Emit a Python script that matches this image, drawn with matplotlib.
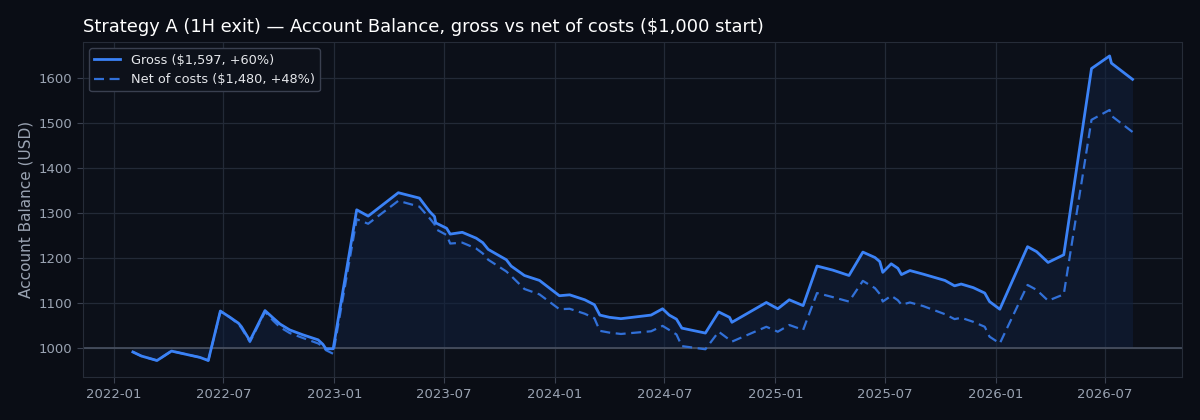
import numpy as np
import pandas as pd
import matplotlib
matplotlib.use("Agg")
import matplotlib.pyplot as plt
import matplotlib.dates as mdates

dates = [
    "2022-02-01", "2022-02-15", "2022-03-13", "2022-04-06", "2022-05-06", "2022-05-23",
    "2022-06-06", "2022-06-26", "2022-07-12", "2022-07-26", "2022-07-31", "2022-08-14",
    "2022-09-08", "2022-09-22", "2022-10-03", "2022-10-19", "2022-11-10", "2022-12-05",
    "2022-12-13", "2022-12-18", "2022-12-30",
    "2023-02-07", "2023-02-26", "2023-04-17", "2023-05-22", "2023-06-08", "2023-06-16",
    "2023-06-18", "2023-07-06", "2023-07-12", "2023-08-01", "2023-08-24", "2023-09-04",
    "2023-09-13", "2023-10-13", "2023-10-21", "2023-11-12", "2023-12-07",
    "2024-01-09", "2024-01-26", "2024-02-20", "2024-03-07", "2024-03-16", "2024-04-01",
    "2024-04-20", "2024-06-09", "2024-06-28", "2024-07-09", "2024-07-21", "2024-07-30",
    "2024-09-07", "2024-09-29", "2024-10-17", "2024-10-21", "2024-12-17",
    "2025-01-05", "2025-01-24", "2025-02-16", "2025-03-11", "2025-04-06", "2025-05-03",
    "2025-05-26", "2025-06-15", "2025-06-23", "2025-06-28", "2025-07-12", "2025-07-23",
    "2025-07-29", "2025-08-12", "2025-09-03", "2025-10-09", "2025-10-25", "2025-11-05",
    "2025-11-25", "2025-12-14", "2025-12-22",
    "2026-01-08", "2026-02-23", "2026-03-10", "2026-03-29", "2026-04-24", "2026-06-09",
    "2026-07-09", "2026-07-12", "2026-08-16",
]

gross = [
    991, 982, 972, 993, 984, 979,
    972, 1082, 1068, 1055, 1047, 1016,
    1083, 1066, 1053, 1040, 1029, 1018,
    1008, 998, 998,
    1307, 1293, 1345, 1333, 1303, 1292,
    1278, 1266, 1253, 1257, 1244, 1234,
    1219, 1196, 1182, 1161, 1150,
    1116, 1118, 1107, 1096, 1073, 1068,
    1065, 1073, 1087, 1073, 1064, 1044,
    1033, 1080, 1068, 1057, 1101,
    1087, 1107, 1094, 1182, 1173, 1161,
    1213, 1201, 1192, 1168, 1187, 1177,
    1163, 1172, 1164, 1150, 1138, 1142,
    1134, 1122, 1103,
    1086, 1225, 1214, 1190, 1207, 1621,
    1649, 1633, 1597,
]

net = [
    991, 982, 972, 993, 984, 979,
    972, 1081, 1068, 1053, 1044, 1013,
    1080, 1060, 1046, 1033, 1022, 1010,
    1003, 995, 987,
    1286, 1276, 1327, 1314, 1288, 1275,
    1264, 1251, 1232, 1234, 1221, 1210,
    1196, 1170, 1160, 1131, 1119,
    1086, 1087, 1076, 1066, 1038, 1034,
    1031, 1037, 1049, 1040, 1030, 1004,
    997, 1036, 1018, 1014, 1047,
    1036, 1051, 1040, 1122, 1113, 1103,
    1149, 1133, 1120, 1103, 1116, 1106,
    1096, 1101, 1093, 1075, 1064, 1067,
    1058, 1047, 1025,
    1010, 1140, 1129, 1105, 1119, 1507,
    1529, 1516, 1480,
]

start_balance = 1000
dates = pd.to_datetime(dates)

BG = "#0a0d15"
AX_BG = "#0c1019"
BLUE = "#3b82f6"
NET_BLUE = "#3170d8"
GRID = "#232a37"
TEXT = "#9aa3b2"

fig = plt.figure(figsize=(12, 4.2), dpi=100, facecolor=BG)
ax = fig.add_axes([0.069, 0.102, 0.916, 0.798], facecolor=AX_BG)

ax.fill_between(dates, gross, start_balance, color="#10203d", alpha=0.55, lw=0)
ax.axhline(start_balance, color="#4a5262", lw=1.2, zorder=1)
ax.plot(dates, gross, color=BLUE, lw=2, label="Gross (\\$1,597, +60%)", zorder=3)
ax.plot(dates, net, color=NET_BLUE, lw=1.6, ls=(0, (4.5, 2.5)),
        label="Net of costs (\\$1,480, +48%)", zorder=2)

ax.set_xlim(pd.Timestamp("2021-11-10"), pd.Timestamp("2026-11-06"))
ax.set_ylim(935, 1680)
ax.set_yticks(np.arange(1000, 1601, 100))
ax.xaxis.set_major_locator(mdates.MonthLocator(bymonth=[1, 7]))
ax.xaxis.set_major_formatter(mdates.DateFormatter("%Y-%m"))

ax.grid(True, color=GRID, lw=0.9)
ax.set_axisbelow(True)
for s in ax.spines.values():
    s.set_color("#262c38")
ax.tick_params(axis="both", colors="#3a4150", labelcolor=TEXT, labelsize=9.5, length=4)

ax.set_ylabel("Account Balance (USD)", color=TEXT, fontsize=11)
ax.set_title("Strategy A (1H exit) \u2014 Account Balance, gross vs net of costs (\\$1,000 start)",
             loc="left", color="white", fontsize=12.9, pad=7)

leg = ax.legend(loc="upper left", fontsize=9.3, facecolor="#0d111a",
                edgecolor="#3a4050", framealpha=1, labelcolor="#e5e7eb")
leg.get_frame().set_linewidth(1)

fig.savefig("out.png", dpi=100, facecolor=BG)
